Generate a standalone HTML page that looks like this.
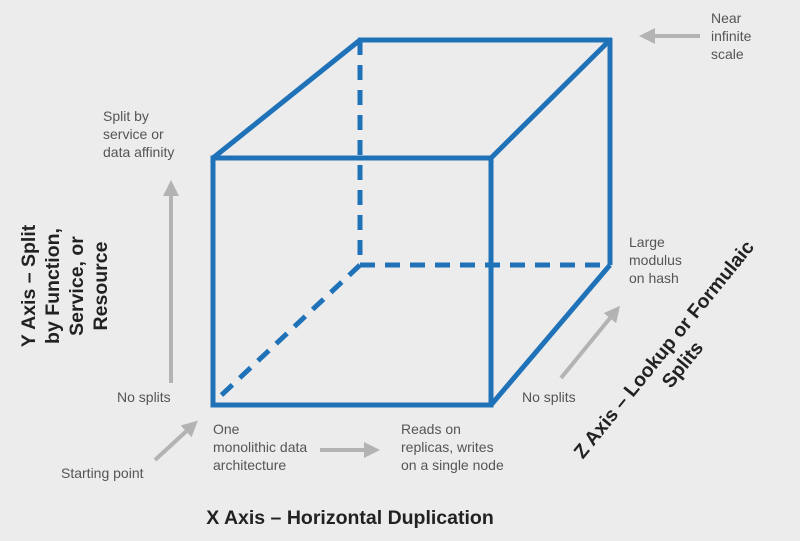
<!DOCTYPE html>
<html><head><style>
html,body{margin:0;padding:0;background:#ececec;}
svg{display:block;}
text{font-family:"Liberation Sans",sans-serif;fill:#444;}
.s{font-size:14px;fill:#555;}
.b{font-size:19.5px;font-weight:bold;fill:#222;}
</style></head><body>
<svg width="800" height="541" viewBox="0 0 800 541" xmlns="http://www.w3.org/2000/svg">
<rect width="800" height="541" fill="#ececec"/>
<defs>
<marker id="a" markerWidth="4" markerHeight="4" refX="2" refY="2" orient="auto" markerUnits="strokeWidth">
<path d="M0,0 L4,2 L0,4 z" fill="#b3b3b3"/></marker>
</defs>
<g stroke="#1f72b8" stroke-width="5" fill="none">
<g stroke-dasharray="15,10">
<line x1="360" y1="40" x2="360" y2="265"/>
<line x1="360" y1="265" x2="610" y2="265"/>
<line x1="360" y1="265" x2="213" y2="403"/>
</g>
<rect x="213" y="158" width="278" height="247"/>
<line x1="213" y1="158" x2="360" y2="40"/>
<line x1="491" y1="158" x2="610" y2="40"/>
<line x1="358" y1="40" x2="612" y2="40"/>
<line x1="610" y1="38" x2="610" y2="265"/>
<line x1="491" y1="405" x2="610" y2="265"/>
</g>
<g stroke="#b3b3b3" stroke-width="4" fill="none">
<line x1="171" y1="383" x2="171" y2="188" marker-end="url(#a)"/>
<line x1="155" y1="460" x2="192" y2="426" marker-end="url(#a)"/>
<line x1="320" y1="450" x2="372" y2="450" marker-end="url(#a)"/>
<line x1="561" y1="378" x2="615" y2="312" marker-end="url(#a)"/>
<line x1="700" y1="36" x2="647" y2="36" marker-end="url(#a)"/>
</g>
<text class="s" x="103" y="121">Split by</text>
<text class="s" x="103" y="139">service or</text>
<text class="s" x="103" y="157">data affinity</text>
<text class="s" x="117" y="402">No splits</text>
<text class="s" x="61" y="478">Starting point</text>
<text class="s" x="213" y="434">One</text>
<text class="s" x="213" y="452">monolithic data</text>
<text class="s" x="213" y="470">architecture</text>
<text class="s" x="401" y="434">Reads on</text>
<text class="s" x="401" y="452">replicas, writes</text>
<text class="s" x="401" y="470">on a single node</text>
<text class="s" x="522" y="402">No splits</text>
<text class="s" x="629" y="247">Large</text>
<text class="s" x="629" y="265">modulus</text>
<text class="s" x="629" y="283">on hash</text>
<text class="s" x="711" y="23">Near</text>
<text class="s" x="711" y="41">infinite</text>
<text class="s" x="711" y="59">scale</text>
<text class="b" x="350" y="524" text-anchor="middle">X Axis – Horizontal Duplication</text>
<g transform="translate(73,286) rotate(-90)" text-anchor="middle">
<text class="b" x="0" y="-38">Y Axis – Split</text>
<text class="b" x="0" y="-14">by Function,</text>
<text class="b" x="0" y="10">Service, or</text>
<text class="b" x="0" y="34">Resource</text>
</g>
<g transform="translate(672,356) rotate(-51)" text-anchor="middle">
<text class="b" x="0" y="-4">Z Axis – Lookup or Formulaic</text>
<text class="b" x="0" y="20">Splits</text>
</g>
</svg>
</body></html>
